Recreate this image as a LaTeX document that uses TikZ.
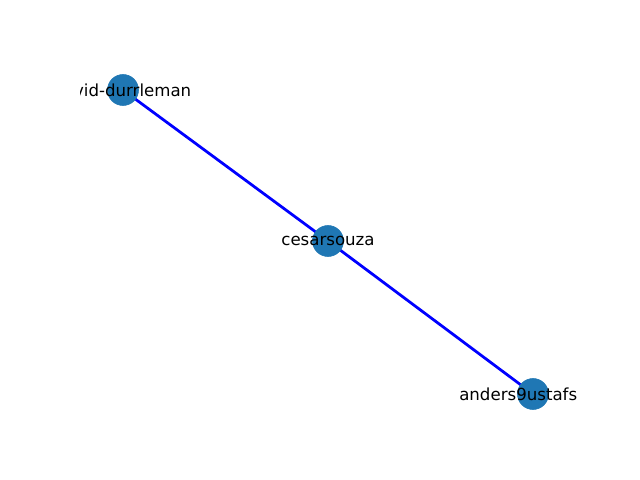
\documentclass[tikz,border=0pt]{standalone}
\usepackage{fontspec}
\setmainfont{DejaVu Sans}
\definecolor{nodeblue}{HTML}{1F77B4}
\begin{document}
\begin{tikzpicture}[x=0.01in,y=-0.01in,
  vertex/.style={circle,fill=nodeblue,draw=nodeblue,inner sep=0pt,minimum size=0.31in},
  edgeline/.style={blue,line width=2pt},
  lbl/.style={inner sep=0pt,font=\fontsize{12pt}{14pt}\selectfont}]
\useasboundingbox (0,0) rectangle (640,480);
\coordinate (pa) at (123,90);
\coordinate (pb) at (328,241);
\coordinate (pc) at (533,394);
\draw[edgeline] (pa) -- (pb);
\draw[edgeline] (pb) -- (pc);
\node[vertex] (a) at (pa) {};
\node[vertex] (b) at (pb) {};
\node[vertex] (c) at (pc) {};
\begin{scope}
\clip (80,0) rectangle (576,480);
\node[lbl,anchor=east] (la) at (191.5,90) {vid-durrleman};
\node[lbl,anchor=west] (lc) at (459,394) {anders9ustafs};
\end{scope}
\node[lbl] (lb) at (pb) {cesarsouza};
\end{tikzpicture}
\end{document}
